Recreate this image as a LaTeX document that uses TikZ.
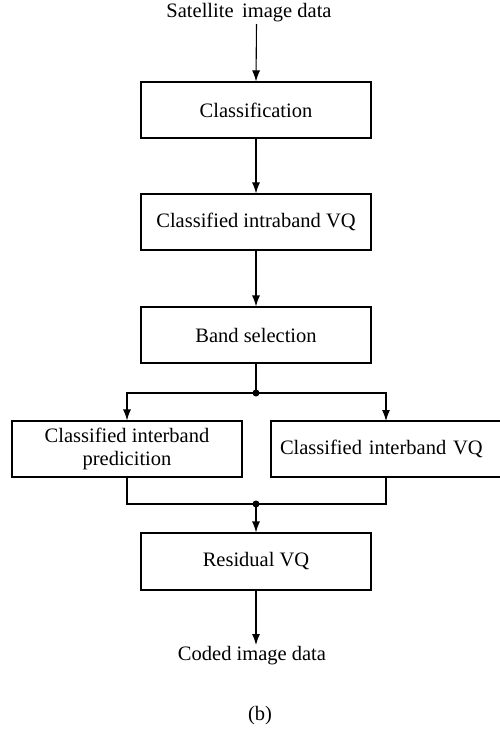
\documentclass[tikz,border=0pt]{standalone}
\usepackage{fontspec}
\setmainfont{Liberation Serif}
\usetikzlibrary{arrows.meta}
\begin{document}
\begin{tikzpicture}[x=1pt,y=-1pt,
  every node/.style={font=\fontsize{20.5}{23}\selectfont},
  blk/.style={draw,line width=1.1pt,minimum width=230pt,minimum height=56pt,inner sep=0pt,anchor=center},
  arr/.style={line width=1.1pt,-{Latex[length=11pt,width=8pt]}},
  ln/.style={line width=1.1pt},
  dot/.style={circle,fill,inner sep=0pt,minimum size=7pt}]
\useasboundingbox (0,0) rectangle (500,731);
\node (src) at (249,13) {Satellite\, image data};
\coordinate (srcb) at (256.5,24);
\node[blk] (cls) at (256,110) {Classification};
\node[blk] (intra) at (256,222) {Classified intraband VQ};
\node[blk] (band) at (256,335) {Band selection};
\node[dot] (j1) at (256,393) {};
\node[blk,align=center] (lbox) at (127,449) {Classified interband\\predicition};
\node[blk,align=left,text width=216pt,minimum width=234pt] (rbox) at (388,449) {Classified interband VQ};
\coordinate (rin) at (386,421);
\coordinate (rout) at (386,477);
\node[dot] (j2) at (256,504) {};
\node[blk,minimum height=57pt] (res) at (256,561.5) {Residual VQ};
\node (out) at (252,656) {Coded image data};
\coordinate (outt) at (256,645);
\node (cap) at (260,716) {(b)};
\draw[arr] (srcb) -- (cls.north);
\draw[arr] (cls.south) -- (intra.north);
\draw[arr] (intra.south) -- (band.north);
\draw[ln] (band.south) -- (j1.center);
\draw[arr] (j1.center) -| (lbox.north);
\draw[arr] (j1.center) -| (rin);
\draw[ln] (lbox.south) |- (j2.center);
\draw[ln] (rout) |- (j2.center);
\draw[arr] (j2.center) -- (res.north);
\draw[arr] (res.south) -- (outt);
\end{tikzpicture}
\end{document}
